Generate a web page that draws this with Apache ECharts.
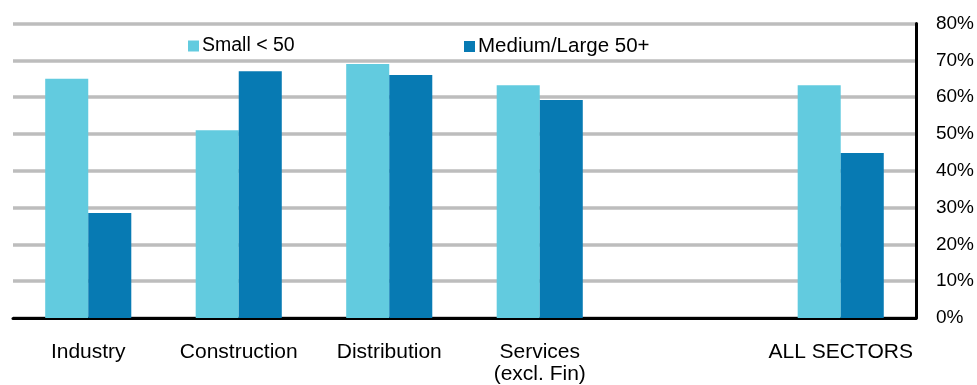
<!DOCTYPE html>
<html>
<head>
<meta charset="utf-8">
<script src="https://cdn.jsdelivr.net/npm/echarts@6/dist/echarts.min.js"></script>
<style>
  html, body { margin: 0; padding: 0; background: #ffffff; }
  #chart { width: 977px; height: 385px; }
</style>
</head>
<body>
<div id="chart"></div>
<script>
// Sectors (one empty slot separates the total from the individual sectors)
const categories = ['Industry', 'Construction', 'Distribution', 'Services\n(excl. Fin)', '', 'ALL SECTORS'];
const seriesNames = ['Small < 50', 'Medium/Large 50+'];
const smallFirms = [65, 51, 69, 63.2, null, 63.2];
const mediumLargeFirms = [28.5, 67, 66, 59.2, null, 44.8];
const yTicks = { min: 0, max: 80, interval: 10 };

const colors = ['#62cbdf', '#077ab3'];
const font = 'Liberation Sans, Arial, sans-serif';

const chart = echarts.init(document.getElementById('chart'));
chart.setOption({
  animation: false,
  backgroundColor: '#ffffff',
  grid: { left: 13, right: 61, top: 23.5, bottom: 66, containLabel: false },
  legend: [
    {
      data: [seriesNames[0]],
      left: 183, top: 31,
      itemWidth: 11, itemHeight: 11,
      icon: 'rect',
      textStyle: { fontFamily: font, fontSize: 19.5, color: '#000000', padding: [0, 0, 0, -2] }
    },
    {
      data: [seriesNames[1]],
      left: 459, top: 31,
      itemWidth: 11, itemHeight: 11,
      icon: 'rect',
      textStyle: { fontFamily: font, fontSize: 20.5, color: '#000000', padding: [0, 0, 0, -2] }
    }
  ],
  xAxis: {
    type: 'category',
    data: categories,
    axisLine: { show: true, lineStyle: { color: '#000000', width: 3 } },
    axisTick: { show: false },
    axisLabel: {
      interval: 0,
      margin: 23,
      fontFamily: font,
      fontSize: 21,
      color: '#000000',
      lineHeight: 22
    },
    splitLine: { show: false }
  },
  yAxis: {
    type: 'value',
    position: 'right',
    min: yTicks.min,
    max: yTicks.max,
    interval: yTicks.interval,
    axisLine: { show: true, lineStyle: { color: '#000000', width: 3 } },
    axisTick: { show: false },
    axisLabel: {
      margin: 20,
      fontFamily: font,
      fontSize: 19,
      color: '#000000',
      formatter: v => v + '%'
    },
    splitLine: { show: true, lineStyle: { color: '#bdbdbd', width: 3.5 } }
  },
  series: [
    {
      name: seriesNames[0],
      type: 'bar',
      data: smallFirms,
      barWidth: '28.6%',
      barGap: '0%',
      itemStyle: { color: colors[0] }
    },
    {
      name: seriesNames[1],
      type: 'bar',
      data: mediumLargeFirms,
      barWidth: '28.6%',
      barGap: '0%',
      itemStyle: { color: colors[1] }
    }
  ]
});
</script>
</body>
</html>
